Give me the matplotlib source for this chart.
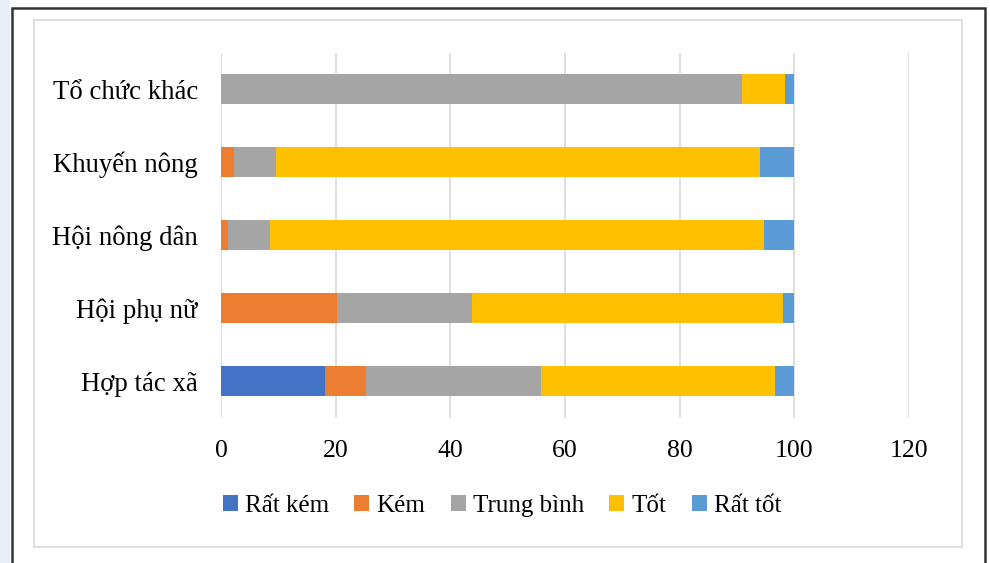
import matplotlib.pyplot as plt
import matplotlib.patches as mpatches

categories = ['Hợp tác xã', 'Hội phụ nữ', 'Hội nông dân', 'Khuyến nông', 'Tổ chức khác']
series_names = ['Rất kém', 'Kém', 'Trung bình', 'Tốt', 'Rất tốt']
rat_kem = [18.1, 0, 0, 0, 0]
kem = [7.1, 20.1, 1.1, 2.2, 0]
trung_binh = [30.6, 23.7, 7.4, 7.4, 90.9]
tot = [40.8, 54.2, 86.3, 84.5, 7.5]
rat_tot = [3.4, 2.0, 5.2, 5.9, 1.6]
x_ticks = [0, 20, 40, 60, 80, 100, 120]

colors = ['#4472C4', '#ED7D31', '#A5A5A5', '#FFC000', '#5B9BD5']

plt.rcParams['font.family'] = ['Liberation Serif', 'DejaVu Serif']

fig = plt.figure(figsize=(9.9, 5.63), dpi=100)
ax = fig.add_axes([0.2237, 0.2584, 0.694, 0.6483])

# frames around the chart
fig.patches.append(mpatches.Rectangle((0, 0), 10 / 990, 1, transform=fig.transFigure,
                                      facecolor='#e9eef7', edgecolor='none', zorder=0))
fig.patches.append(mpatches.Rectangle((12 / 990, -0.01), 973 / 990, 1 - 8 / 563 + 0.01,
                                      transform=fig.transFigure, facecolor='none',
                                      edgecolor='#333333', linewidth=1.8, zorder=1))
fig.patches.append(mpatches.Rectangle((34 / 990, 1 - 547 / 563), 928 / 990, 527 / 563,
                                      transform=fig.transFigure, facecolor='none',
                                      edgecolor='#d9d9d9', linewidth=1.2, zorder=1))

ypos = list(range(len(categories)))
left = [0] * len(categories)
for name, vals, c in zip(series_names, [rat_kem, kem, trung_binh, tot, rat_tot], colors):
    ax.barh(ypos, vals, left=left, height=0.41, color=c, label=name, zorder=3)
    left = [l + v for l, v in zip(left, vals)]

ax.set_xlim(0, 120)
ax.set_ylim(-0.5, len(categories) - 0.5)
ax.set_xticks(x_ticks)
ax.set_yticks(ypos)
ax.set_yticklabels(categories, fontsize=19.3)
ax.tick_params(axis='x', labelsize=18.5, length=0, pad=16)
ax.tick_params(axis='y', length=0, pad=17)
ax.grid(True, axis='x', color='#d9d9d9', linewidth=1.2, zorder=0)
for s in ax.spines.values():
    s.set_visible(False)

fig.legend(loc='center', bbox_to_anchor=(502 / 990, 1 - 506 / 563), ncol=5, frameon=False,
           fontsize=18, handlelength=0.6, handleheight=0.6, handletextpad=0.3,
           columnspacing=1.0)

fig.savefig('out.png', dpi=100)
